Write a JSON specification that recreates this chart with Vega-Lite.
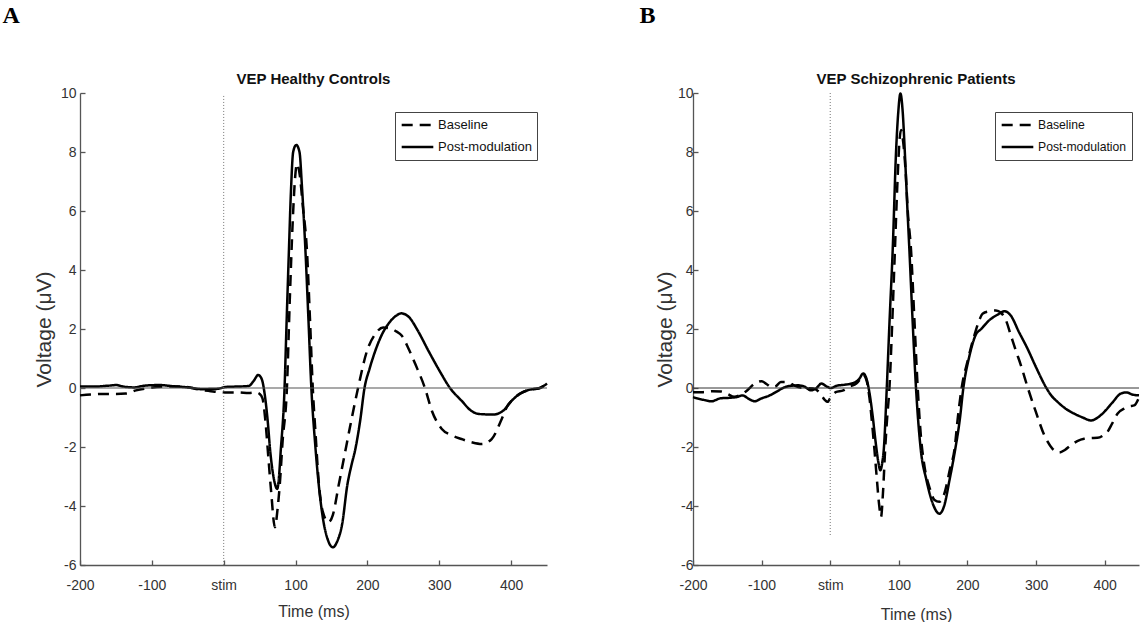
{
  "$schema": "https://vega.github.io/schema/vega-lite/v6.json",
  "padding": {"left": 2, "top": 4, "right": 0, "bottom": 0},
  "background": "white",
  "config": {
    "view": {"stroke": null},
    "font": "Liberation Sans",
    "axis": {
      "grid": false,
      "domainColor": "#555",
      "domainWidth": 1.3,
      "tickColor": "#555",
      "tickWidth": 1.3,
      "tickSize": -5,
      "labelFlush": false,
      "labelFont": "Liberation Sans",
      "labelFontSize": 14,
      "labelColor": "#333",
      "titleFont": "Liberation Sans",
      "titleFontWeight": "normal",
      "titleColor": "#333"
    },
    "legend": {
      "strokeColor": "#444",
      "fillColor": "white",
      "padding": 5,
      "labelFont": "Liberation Sans",
      "labelFontSize": 13,
      "labelColor": "#111",
      "symbolType": "stroke",
      "symbolStrokeWidth": 2.5,
      "symbolSize": 1000,
      "symbolStrokeColor": "black",
      "labelOffset": 3,
      "clipHeight": 16,
      "rowPadding": 6
    },
    "title": {"font": "Liberation Sans", "fontSize": 15, "fontWeight": "bold", "color": "#111", "offset": -1}
  },
  "datasets": {
    "A": [
      {"t": -200, "v": 0.05, "s": "Post-modulation"},
      {"t": -180, "v": 0.05, "s": "Post-modulation"},
      {"t": -160, "v": 0.08, "s": "Post-modulation"},
      {"t": -150, "v": 0.1, "s": "Post-modulation"},
      {"t": -140, "v": 0.05, "s": "Post-modulation"},
      {"t": -125, "v": 0.02, "s": "Post-modulation"},
      {"t": -110, "v": 0.08, "s": "Post-modulation"},
      {"t": -90, "v": 0.1, "s": "Post-modulation"},
      {"t": -70, "v": 0.06, "s": "Post-modulation"},
      {"t": -50, "v": 0.02, "s": "Post-modulation"},
      {"t": -30, "v": -0.04, "s": "Post-modulation"},
      {"t": -10, "v": -0.03, "s": "Post-modulation"},
      {"t": 5, "v": 0.04, "s": "Post-modulation"},
      {"t": 20, "v": 0.05, "s": "Post-modulation"},
      {"t": 35, "v": 0.07, "s": "Post-modulation"},
      {"t": 42, "v": 0.25, "s": "Post-modulation"},
      {"t": 48, "v": 0.44, "s": "Post-modulation"},
      {"t": 53, "v": 0.3, "s": "Post-modulation"},
      {"t": 57, "v": -0.2, "s": "Post-modulation"},
      {"t": 61, "v": -1.05, "s": "Post-modulation"},
      {"t": 65, "v": -2.2, "s": "Post-modulation"},
      {"t": 70, "v": -3.1, "s": "Post-modulation"},
      {"t": 74.5, "v": -3.42, "s": "Post-modulation"},
      {"t": 77, "v": -3.0, "s": "Post-modulation"},
      {"t": 79.2, "v": -2.2, "s": "Post-modulation"},
      {"t": 84.7, "v": 0.0, "s": "Post-modulation"},
      {"t": 87.5, "v": 2.2, "s": "Post-modulation"},
      {"t": 90.7, "v": 4.6, "s": "Post-modulation"},
      {"t": 93.5, "v": 6.6, "s": "Post-modulation"},
      {"t": 96.7, "v": 8.0, "s": "Post-modulation"},
      {"t": 101, "v": 8.24, "s": "Post-modulation"},
      {"t": 105.5, "v": 8.0, "s": "Post-modulation"},
      {"t": 109, "v": 6.8, "s": "Post-modulation"},
      {"t": 113.9, "v": 4.6, "s": "Post-modulation"},
      {"t": 118, "v": 2.3, "s": "Post-modulation"},
      {"t": 122, "v": 0.0, "s": "Post-modulation"},
      {"t": 127, "v": -1.8, "s": "Post-modulation"},
      {"t": 132.4, "v": -3.3, "s": "Post-modulation"},
      {"t": 138, "v": -4.4, "s": "Post-modulation"},
      {"t": 145, "v": -5.15, "s": "Post-modulation"},
      {"t": 152, "v": -5.4, "s": "Post-modulation"},
      {"t": 158, "v": -5.2, "s": "Post-modulation"},
      {"t": 165, "v": -4.6, "s": "Post-modulation"},
      {"t": 172, "v": -3.3, "s": "Post-modulation"},
      {"t": 178, "v": -2.6, "s": "Post-modulation"},
      {"t": 183, "v": -2.1, "s": "Post-modulation"},
      {"t": 190, "v": -1.1, "s": "Post-modulation"},
      {"t": 196, "v": 0.0, "s": "Post-modulation"},
      {"t": 203, "v": 0.65, "s": "Post-modulation"},
      {"t": 211, "v": 1.26, "s": "Post-modulation"},
      {"t": 220, "v": 1.8, "s": "Post-modulation"},
      {"t": 230, "v": 2.2, "s": "Post-modulation"},
      {"t": 240, "v": 2.45, "s": "Post-modulation"},
      {"t": 247, "v": 2.53, "s": "Post-modulation"},
      {"t": 258, "v": 2.4, "s": "Post-modulation"},
      {"t": 270, "v": 1.95, "s": "Post-modulation"},
      {"t": 285, "v": 1.26, "s": "Post-modulation"},
      {"t": 300, "v": 0.6, "s": "Post-modulation"},
      {"t": 315, "v": 0.0, "s": "Post-modulation"},
      {"t": 331, "v": -0.43, "s": "Post-modulation"},
      {"t": 345, "v": -0.78, "s": "Post-modulation"},
      {"t": 355, "v": -0.88, "s": "Post-modulation"},
      {"t": 375, "v": -0.9, "s": "Post-modulation"},
      {"t": 390, "v": -0.75, "s": "Post-modulation"},
      {"t": 401, "v": -0.43, "s": "Post-modulation"},
      {"t": 412, "v": -0.2, "s": "Post-modulation"},
      {"t": 424, "v": -0.07, "s": "Post-modulation"},
      {"t": 440, "v": 0.0, "s": "Post-modulation"},
      {"t": 450, "v": 0.15, "s": "Post-modulation"},
      {"t": -200, "v": -0.25, "s": "Baseline"},
      {"t": -185, "v": -0.22, "s": "Baseline"},
      {"t": -170, "v": -0.2, "s": "Baseline"},
      {"t": -150, "v": -0.2, "s": "Baseline"},
      {"t": -136, "v": -0.19, "s": "Baseline"},
      {"t": -122, "v": -0.08, "s": "Baseline"},
      {"t": -103, "v": 0.0, "s": "Baseline"},
      {"t": -85, "v": 0.04, "s": "Baseline"},
      {"t": -66, "v": 0.05, "s": "Baseline"},
      {"t": -52, "v": 0.04, "s": "Baseline"},
      {"t": -35, "v": -0.05, "s": "Baseline"},
      {"t": -20, "v": -0.1, "s": "Baseline"},
      {"t": 0, "v": -0.15, "s": "Baseline"},
      {"t": 20, "v": -0.15, "s": "Baseline"},
      {"t": 35, "v": -0.17, "s": "Baseline"},
      {"t": 45, "v": -0.15, "s": "Baseline"},
      {"t": 50, "v": -0.2, "s": "Baseline"},
      {"t": 54, "v": -0.35, "s": "Baseline"},
      {"t": 58, "v": -1.1, "s": "Baseline"},
      {"t": 62, "v": -2.3, "s": "Baseline"},
      {"t": 66, "v": -3.5, "s": "Baseline"},
      {"t": 71.3, "v": -4.72, "s": "Baseline"},
      {"t": 75, "v": -4.1, "s": "Baseline"},
      {"t": 78, "v": -3.3, "s": "Baseline"},
      {"t": 82, "v": -1.8, "s": "Baseline"},
      {"t": 88, "v": 0.0, "s": "Baseline"},
      {"t": 92, "v": 3.0, "s": "Baseline"},
      {"t": 96, "v": 5.6, "s": "Baseline"},
      {"t": 99, "v": 7.0, "s": "Baseline"},
      {"t": 102, "v": 7.6, "s": "Baseline"},
      {"t": 106, "v": 7.2, "s": "Baseline"},
      {"t": 110, "v": 6.2, "s": "Baseline"},
      {"t": 116, "v": 4.6, "s": "Baseline"},
      {"t": 120, "v": 2.4, "s": "Baseline"},
      {"t": 124, "v": 0.0, "s": "Baseline"},
      {"t": 128, "v": -1.6, "s": "Baseline"},
      {"t": 132, "v": -3.1, "s": "Baseline"},
      {"t": 138, "v": -4.2, "s": "Baseline"},
      {"t": 146, "v": -4.55, "s": "Baseline"},
      {"t": 152, "v": -4.3, "s": "Baseline"},
      {"t": 160, "v": -3.3, "s": "Baseline"},
      {"t": 168, "v": -2.3, "s": "Baseline"},
      {"t": 176, "v": -1.3, "s": "Baseline"},
      {"t": 187, "v": 0.0, "s": "Baseline"},
      {"t": 199.5, "v": 1.26, "s": "Baseline"},
      {"t": 211, "v": 1.83, "s": "Baseline"},
      {"t": 222, "v": 2.05, "s": "Baseline"},
      {"t": 232, "v": 2.02, "s": "Baseline"},
      {"t": 240, "v": 1.92, "s": "Baseline"},
      {"t": 248, "v": 1.77, "s": "Baseline"},
      {"t": 257, "v": 1.35, "s": "Baseline"},
      {"t": 266.7, "v": 0.81, "s": "Baseline"},
      {"t": 280.5, "v": -0.03, "s": "Baseline"},
      {"t": 289.7, "v": -0.77, "s": "Baseline"},
      {"t": 303.6, "v": -1.39, "s": "Baseline"},
      {"t": 317, "v": -1.6, "s": "Baseline"},
      {"t": 331, "v": -1.73, "s": "Baseline"},
      {"t": 345, "v": -1.84, "s": "Baseline"},
      {"t": 359, "v": -1.9, "s": "Baseline"},
      {"t": 373, "v": -1.73, "s": "Baseline"},
      {"t": 387, "v": -1.05, "s": "Baseline"},
      {"t": 395, "v": -0.6, "s": "Baseline"},
      {"t": 401, "v": -0.43, "s": "Baseline"},
      {"t": 412, "v": -0.2, "s": "Baseline"},
      {"t": 424, "v": -0.07, "s": "Baseline"},
      {"t": 440, "v": 0.0, "s": "Baseline"},
      {"t": 450, "v": 0.15, "s": "Baseline"}
    ],
    "B": [
      {"t": -200, "v": -0.31, "s": "Post-modulation"},
      {"t": -185, "v": -0.4, "s": "Post-modulation"},
      {"t": -173, "v": -0.45, "s": "Post-modulation"},
      {"t": -160, "v": -0.35, "s": "Post-modulation"},
      {"t": -145, "v": -0.33, "s": "Post-modulation"},
      {"t": -135, "v": -0.3, "s": "Post-modulation"},
      {"t": -128, "v": -0.25, "s": "Post-modulation"},
      {"t": -118, "v": -0.38, "s": "Post-modulation"},
      {"t": -110, "v": -0.45, "s": "Post-modulation"},
      {"t": -100, "v": -0.35, "s": "Post-modulation"},
      {"t": -90, "v": -0.27, "s": "Post-modulation"},
      {"t": -78, "v": -0.12, "s": "Post-modulation"},
      {"t": -66, "v": 0.03, "s": "Post-modulation"},
      {"t": -55, "v": 0.08, "s": "Post-modulation"},
      {"t": -47, "v": 0.09, "s": "Post-modulation"},
      {"t": -38, "v": 0.05, "s": "Post-modulation"},
      {"t": -28, "v": -0.08, "s": "Post-modulation"},
      {"t": -20, "v": 0.0, "s": "Post-modulation"},
      {"t": -13, "v": 0.15, "s": "Post-modulation"},
      {"t": -5, "v": 0.05, "s": "Post-modulation"},
      {"t": 1, "v": 0.0, "s": "Post-modulation"},
      {"t": 10, "v": 0.08, "s": "Post-modulation"},
      {"t": 21, "v": 0.11, "s": "Post-modulation"},
      {"t": 35, "v": 0.18, "s": "Post-modulation"},
      {"t": 42, "v": 0.3, "s": "Post-modulation"},
      {"t": 48, "v": 0.49, "s": "Post-modulation"},
      {"t": 53, "v": 0.3, "s": "Post-modulation"},
      {"t": 57, "v": -0.14, "s": "Post-modulation"},
      {"t": 62, "v": -0.98, "s": "Post-modulation"},
      {"t": 66, "v": -1.8, "s": "Post-modulation"},
      {"t": 70, "v": -2.5, "s": "Post-modulation"},
      {"t": 73, "v": -2.79, "s": "Post-modulation"},
      {"t": 76, "v": -2.5, "s": "Post-modulation"},
      {"t": 78, "v": -2.1, "s": "Post-modulation"},
      {"t": 82.4, "v": 0.0, "s": "Post-modulation"},
      {"t": 86.5, "v": 2.3, "s": "Post-modulation"},
      {"t": 91, "v": 4.66, "s": "Post-modulation"},
      {"t": 96, "v": 8.05, "s": "Post-modulation"},
      {"t": 99, "v": 9.3, "s": "Post-modulation"},
      {"t": 102.3, "v": 9.98, "s": "Post-modulation"},
      {"t": 105.5, "v": 9.4, "s": "Post-modulation"},
      {"t": 108.6, "v": 8.05, "s": "Post-modulation"},
      {"t": 112, "v": 6.3, "s": "Post-modulation"},
      {"t": 115.4, "v": 4.66, "s": "Post-modulation"},
      {"t": 120, "v": 2.3, "s": "Post-modulation"},
      {"t": 125, "v": 0.0, "s": "Post-modulation"},
      {"t": 132, "v": -2.1, "s": "Post-modulation"},
      {"t": 140, "v": -3.1, "s": "Post-modulation"},
      {"t": 150.8, "v": -4.0, "s": "Post-modulation"},
      {"t": 159, "v": -4.26, "s": "Post-modulation"},
      {"t": 166, "v": -4.0, "s": "Post-modulation"},
      {"t": 174, "v": -3.1, "s": "Post-modulation"},
      {"t": 182, "v": -2.1, "s": "Post-modulation"},
      {"t": 189, "v": -1.04, "s": "Post-modulation"},
      {"t": 194, "v": 0.0, "s": "Post-modulation"},
      {"t": 203, "v": 1.1, "s": "Post-modulation"},
      {"t": 212, "v": 1.8, "s": "Post-modulation"},
      {"t": 220, "v": 2.0, "s": "Post-modulation"},
      {"t": 232, "v": 2.3, "s": "Post-modulation"},
      {"t": 245, "v": 2.5, "s": "Post-modulation"},
      {"t": 254, "v": 2.6, "s": "Post-modulation"},
      {"t": 263, "v": 2.46, "s": "Post-modulation"},
      {"t": 275, "v": 1.9, "s": "Post-modulation"},
      {"t": 287.6, "v": 1.33, "s": "Post-modulation"},
      {"t": 300, "v": 0.7, "s": "Post-modulation"},
      {"t": 314.3, "v": 0.03, "s": "Post-modulation"},
      {"t": 322, "v": -0.25, "s": "Post-modulation"},
      {"t": 331.3, "v": -0.47, "s": "Post-modulation"},
      {"t": 343, "v": -0.7, "s": "Post-modulation"},
      {"t": 355.6, "v": -0.87, "s": "Post-modulation"},
      {"t": 368, "v": -1.0, "s": "Post-modulation"},
      {"t": 379.8, "v": -1.1, "s": "Post-modulation"},
      {"t": 390, "v": -1.0, "s": "Post-modulation"},
      {"t": 399.3, "v": -0.81, "s": "Post-modulation"},
      {"t": 411, "v": -0.5, "s": "Post-modulation"},
      {"t": 423.5, "v": -0.19, "s": "Post-modulation"},
      {"t": 432, "v": -0.15, "s": "Post-modulation"},
      {"t": 440, "v": -0.22, "s": "Post-modulation"},
      {"t": 450, "v": -0.25, "s": "Post-modulation"},
      {"t": -200, "v": -0.14, "s": "Baseline"},
      {"t": -185, "v": -0.14, "s": "Baseline"},
      {"t": -172, "v": -0.11, "s": "Baseline"},
      {"t": -159, "v": -0.12, "s": "Baseline"},
      {"t": -150, "v": -0.2, "s": "Baseline"},
      {"t": -140, "v": -0.3, "s": "Baseline"},
      {"t": -132, "v": -0.25, "s": "Baseline"},
      {"t": -122, "v": -0.1, "s": "Baseline"},
      {"t": -110, "v": 0.15, "s": "Baseline"},
      {"t": -100, "v": 0.23, "s": "Baseline"},
      {"t": -92, "v": 0.12, "s": "Baseline"},
      {"t": -86, "v": 0.03, "s": "Baseline"},
      {"t": -80, "v": 0.05, "s": "Baseline"},
      {"t": -72, "v": 0.2, "s": "Baseline"},
      {"t": -62, "v": 0.2, "s": "Baseline"},
      {"t": -52, "v": 0.08, "s": "Baseline"},
      {"t": -40, "v": 0.0, "s": "Baseline"},
      {"t": -25, "v": -0.02, "s": "Baseline"},
      {"t": -16, "v": -0.14, "s": "Baseline"},
      {"t": -8, "v": -0.4, "s": "Baseline"},
      {"t": -4, "v": -0.47, "s": "Baseline"},
      {"t": 0, "v": -0.35, "s": "Baseline"},
      {"t": 8, "v": -0.14, "s": "Baseline"},
      {"t": 19, "v": -0.08, "s": "Baseline"},
      {"t": 28, "v": 0.05, "s": "Baseline"},
      {"t": 38, "v": 0.15, "s": "Baseline"},
      {"t": 45, "v": 0.35, "s": "Baseline"},
      {"t": 48, "v": 0.45, "s": "Baseline"},
      {"t": 53, "v": 0.25, "s": "Baseline"},
      {"t": 57, "v": -0.3, "s": "Baseline"},
      {"t": 61, "v": -1.2, "s": "Baseline"},
      {"t": 64.5, "v": -2.11, "s": "Baseline"},
      {"t": 68, "v": -3.1, "s": "Baseline"},
      {"t": 71, "v": -3.9, "s": "Baseline"},
      {"t": 74, "v": -4.37, "s": "Baseline"},
      {"t": 77, "v": -3.5, "s": "Baseline"},
      {"t": 80, "v": -2.1, "s": "Baseline"},
      {"t": 83, "v": -1.0, "s": "Baseline"},
      {"t": 86.3, "v": 0.0, "s": "Baseline"},
      {"t": 90, "v": 2.0, "s": "Baseline"},
      {"t": 94, "v": 4.5, "s": "Baseline"},
      {"t": 98, "v": 7.0, "s": "Baseline"},
      {"t": 101, "v": 8.4, "s": "Baseline"},
      {"t": 103.2, "v": 8.75, "s": "Baseline"},
      {"t": 106, "v": 8.4, "s": "Baseline"},
      {"t": 110, "v": 7.3, "s": "Baseline"},
      {"t": 113, "v": 6.0, "s": "Baseline"},
      {"t": 117.8, "v": 4.66, "s": "Baseline"},
      {"t": 122.5, "v": 2.4, "s": "Baseline"},
      {"t": 127.5, "v": 0.0, "s": "Baseline"},
      {"t": 132, "v": -1.6, "s": "Baseline"},
      {"t": 137, "v": -2.6, "s": "Baseline"},
      {"t": 145, "v": -3.4, "s": "Baseline"},
      {"t": 152, "v": -3.8, "s": "Baseline"},
      {"t": 159, "v": -3.86, "s": "Baseline"},
      {"t": 166, "v": -3.6, "s": "Baseline"},
      {"t": 175, "v": -2.7, "s": "Baseline"},
      {"t": 181, "v": -2.1, "s": "Baseline"},
      {"t": 186, "v": -1.0, "s": "Baseline"},
      {"t": 191.5, "v": 0.0, "s": "Baseline"},
      {"t": 200, "v": 0.9, "s": "Baseline"},
      {"t": 209, "v": 1.7, "s": "Baseline"},
      {"t": 217.3, "v": 2.3, "s": "Baseline"},
      {"t": 222, "v": 2.52, "s": "Baseline"},
      {"t": 232, "v": 2.6, "s": "Baseline"},
      {"t": 241.5, "v": 2.63, "s": "Baseline"},
      {"t": 248.8, "v": 2.55, "s": "Baseline"},
      {"t": 256, "v": 2.3, "s": "Baseline"},
      {"t": 263.3, "v": 1.78, "s": "Baseline"},
      {"t": 270, "v": 1.3, "s": "Baseline"},
      {"t": 277.9, "v": 0.77, "s": "Baseline"},
      {"t": 287.6, "v": 0.03, "s": "Baseline"},
      {"t": 299.7, "v": -0.81, "s": "Baseline"},
      {"t": 312, "v": -1.6, "s": "Baseline"},
      {"t": 324, "v": -2.06, "s": "Baseline"},
      {"t": 333.8, "v": -2.19, "s": "Baseline"},
      {"t": 342, "v": -2.1, "s": "Baseline"},
      {"t": 350.7, "v": -1.94, "s": "Baseline"},
      {"t": 360, "v": -1.8, "s": "Baseline"},
      {"t": 370, "v": -1.72, "s": "Baseline"},
      {"t": 380, "v": -1.7, "s": "Baseline"},
      {"t": 389.5, "v": -1.69, "s": "Baseline"},
      {"t": 397, "v": -1.62, "s": "Baseline"},
      {"t": 404, "v": -1.49, "s": "Baseline"},
      {"t": 411, "v": -1.2, "s": "Baseline"},
      {"t": 418.6, "v": -0.87, "s": "Baseline"},
      {"t": 428.4, "v": -0.7, "s": "Baseline"},
      {"t": 436, "v": -0.62, "s": "Baseline"},
      {"t": 443, "v": -0.59, "s": "Baseline"},
      {"t": 450, "v": -0.32, "s": "Baseline"}
    ]
  },
  "hconcat": [
    {
      "title": {"text": "A", "anchor": "start", "font": "Liberation Serif", "fontSize": 24, "fontWeight": "bold", "color": "black", "offset": 44, "dx": -31},
      "vconcat": [
        {
          "width": 467,
          "height": 472,
          "title": {"text": "VEP Healthy Controls"},
          "layer": [
            {
              "data": {"name": "A"},
              "mark": {"type": "line", "color": "black", "strokeWidth": 2.5, "interpolate": "monotone"},
              "encoding": {
                "x": {"field": "t", "type": "quantitative", "scale": {"domain": [-200, 450], "nice": false, "zero": false},
                      "axis": {"title": "Time (ms)", "titleFontSize": 16, "values": [-200, -100, 0, 100, 200, 300, 400], "labelExpr": "datum.value === 0 ? 'stim' : '' + datum.value", "labelPadding": 18, "titlePadding": 11}},
                "y": {"field": "v", "type": "quantitative", "scale": {"domain": [-6, 10], "nice": false, "zero": false},
                      "axis": {"title": "Voltage (μV)", "titleFontSize": 21, "values": [-6, -4, -2, 0, 2, 4, 6, 8, 10], "labelExpr": "'' + datum.value", "labelPadding": 9, "titlePadding": 6}},
                "strokeDash": {"field": "s", "type": "nominal", "scale": {"domain": ["Baseline", "Post-modulation"], "range": [[11, 7], [1, 0]]}, "legend": {"title": null, "orient": "none", "legendX": 315, "legendY": 19}}
              }
            },
            {
              "data": {"values": [{"t": 0, "v": 9.9, "v2": -6}]},
              "mark": {"type": "rule", "color": "#777", "strokeWidth": 1, "strokeDash": [1, 2]},
              "encoding": {"x": {"field": "t", "type": "quantitative"}, "y": {"field": "v", "type": "quantitative"}, "y2": {"field": "v2"}}
            },
            {
              "data": {"values": [{"v": 0}]},
              "mark": {"type": "rule", "color": "#555", "strokeWidth": 1.2},
              "encoding": {"y": {"field": "v", "type": "quantitative"}}
            }
          ]
        }
      ]
    },
    {
      "title": {"text": "B", "anchor": "start", "font": "Liberation Serif", "fontSize": 24, "fontWeight": "bold", "color": "black", "offset": 44, "dx": -15},
      "vconcat": [
        {
          "width": 446,
          "height": 472,
          "title": {"text": "VEP Schizophrenic Patients"},
          "layer": [
            {
              "data": {"name": "B"},
              "mark": {"type": "line", "color": "black", "strokeWidth": 2.5, "interpolate": "monotone"},
              "encoding": {
                "x": {"field": "t", "type": "quantitative", "scale": {"domain": [-200, 450], "nice": false, "zero": false},
                      "axis": {"title": "Time (ms)", "titleFontSize": 16, "values": [-200, -100, 0, 100, 200, 300, 400], "labelExpr": "datum.value === 0 ? 'stim' : '' + datum.value", "labelPadding": 18, "titlePadding": 14}},
                "y": {"field": "v", "type": "quantitative", "scale": {"domain": [-6, 10], "nice": false, "zero": false},
                      "axis": {"title": "Voltage (μV)", "titleFontSize": 21, "values": [-6, -4, -2, 0, 2, 4, 6, 8, 10], "labelExpr": "'' + datum.value", "labelPadding": 5, "titlePadding": 2}},
                "strokeDash": {"field": "s", "type": "nominal", "scale": {"domain": ["Baseline", "Post-modulation"], "range": [[11, 7], [1, 0]]}, "legend": {"title": null, "orient": "none", "legendX": 302, "legendY": 19, "labelFontSize": 12.2}}
              }
            },
            {
              "data": {"values": [{"t": 0, "v": 10, "v2": -5}]},
              "mark": {"type": "rule", "color": "#777", "strokeWidth": 1, "strokeDash": [1, 2]},
              "encoding": {"x": {"field": "t", "type": "quantitative"}, "y": {"field": "v", "type": "quantitative"}, "y2": {"field": "v2"}}
            },
            {
              "data": {"values": [{"v": 0}]},
              "mark": {"type": "rule", "color": "#333", "strokeWidth": 1},
              "encoding": {"y": {"field": "v", "type": "quantitative"}}
            }
          ]
        }
      ]
    }
  ],
  "spacing": 87,
  "resolve": {"scale": {"strokeDash": "independent", "x": "independent", "y": "independent"}, "legend": {"strokeDash": "independent"}}
}
